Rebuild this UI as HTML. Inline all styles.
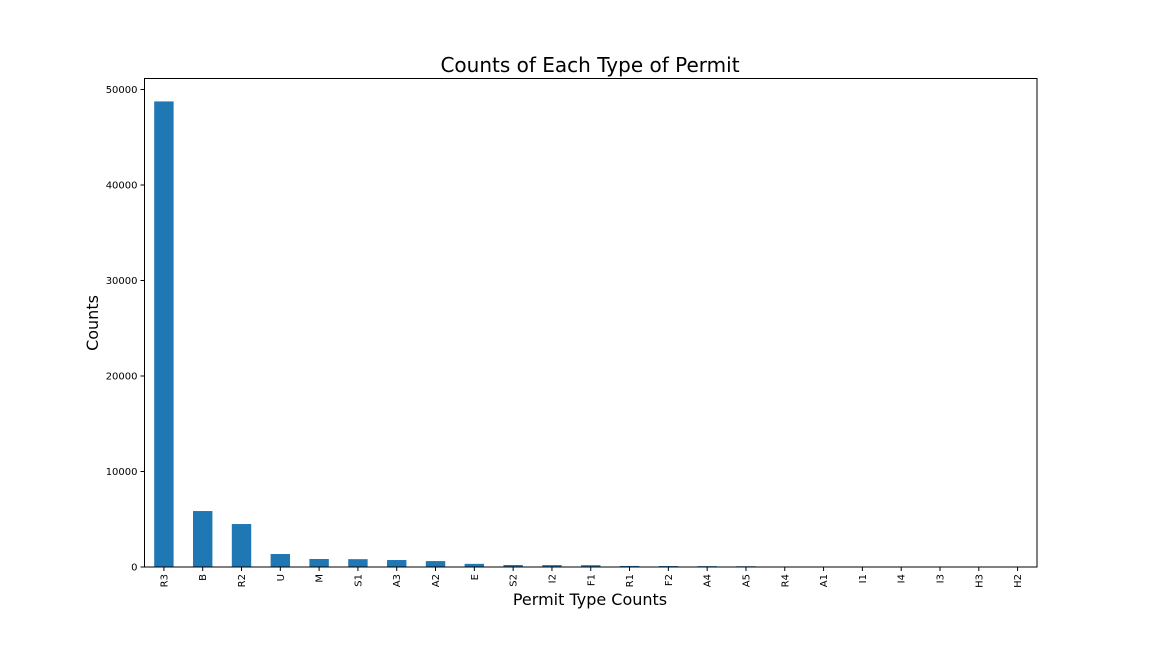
<!DOCTYPE html>
<html><head><meta charset="utf-8"><style>
html,body{margin:0;padding:0;background:#fff;}
svg{display:block;font-family:"DejaVu Sans","Liberation Sans",sans-serif;}
</style></head><body>
<svg id="chart" width="1152" height="648" viewBox="0 0 1152 648" xmlns="http://www.w3.org/2000/svg">
<rect width="1152" height="648" fill="#fff"/>
<text x="590" y="72" font-size="20" text-anchor="middle">Counts of Each Type of Permit</text>
<text x="590" y="605" font-size="16" text-anchor="middle">Permit Type Counts</text>
<text x="0" y="0" font-size="16" text-anchor="middle" transform="translate(98,323) rotate(-90)">Counts</text>
<g id="bars"></g>
<g id="yticks"></g>
<g id="xticks"></g>
<rect x="144.5" y="78.5" width="892.5" height="488.5" fill="none" stroke="#000" stroke-width="1"/>
</svg>
<script>
const cats = ["R3","B","R2","U","M","S1","A3","A2","E","S2","I2","F1","R1","F2","A4","A5","R4","A1","I1","I4","I3","H3","H2"];
const counts = [48750,5860,4500,1360,840,820,730,620,330,210,200,190,110,100,90,80,15,8,5,4,3,2,1];
const yTicks = [0,10000,20000,30000,40000,50000];
const L=144.5,R=1037,T=78.5,B=567;
const yMax=51150;
function y(v){return B-(v/yMax)*(B-T);}
const step=(R-L)/cats.length;
function x(i){return L+step*(i+0.5);}
const NS="http://www.w3.org/2000/svg";
const bars=document.getElementById('bars'),yt=document.getElementById('yticks'),xt=document.getElementById('xticks');
cats.forEach((c,i)=>{
  const r=document.createElementNS(NS,'rect');
  
  
  const w=step*0.5;
  r.setAttribute('x',x(i)-w/2);r.setAttribute('width',w);
  r.setAttribute('y',y(counts[i]));r.setAttribute('height',B-y(counts[i]));
  r.setAttribute('fill','#1f77b4');
  bars.appendChild(r);
  const tk=document.createElementNS(NS,'line');
  
  
  tk.setAttribute('x1',x(i));tk.setAttribute('x2',x(i));tk.setAttribute('y1',B);tk.setAttribute('y2',B+4);tk.setAttribute('stroke','#000');
  xt.appendChild(tk);
  const t=document.createElementNS(NS,'text');
  
  
  t.setAttribute('font-size','10');t.setAttribute('text-anchor','end');
  t.setAttribute('transform','translate('+(x(i)+3.5)+','+(B+7)+') rotate(-90)');
  t.textContent=c;xt.appendChild(t);
});
yTicks.forEach(v=>{
  const tk=document.createElementNS(NS,'line');
  
  
  tk.setAttribute('x1',L-4);tk.setAttribute('x2',L);tk.setAttribute('y1',y(v));tk.setAttribute('y2',y(v));tk.setAttribute('stroke','#000');
  yt.appendChild(tk);
  const t=document.createElementNS(NS,'text');
  
  
  t.setAttribute('font-size','10');t.setAttribute('text-anchor','end');
  t.setAttribute('x',L-7);t.setAttribute('y',y(v)+3.5);
  t.textContent=v;yt.appendChild(t);
});
</script>
</body></html>
